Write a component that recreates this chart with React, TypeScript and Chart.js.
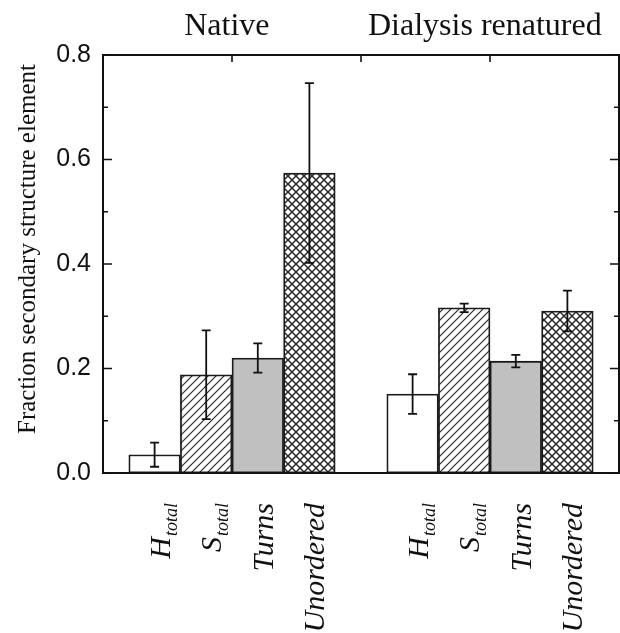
import React, { useEffect, useRef } from "react";
import { Chart, registerables } from "chart.js";

Chart.register(...registerables);

const groupTitles = ["Native", "Dialysis renatured"];
const elementNames = ["H", "S", "Turns", "Unordered"];
const elementSubscripts = ["total", "total", "", ""];
const nativeValues = [0.035, 0.188, 0.22, 0.574];
const nativeErrors = [0.023, 0.085, 0.028, 0.172];
const renaturedValues = [0.151, 0.316, 0.214, 0.31];
const renaturedErrors = [0.038, 0.008, 0.012, 0.039];
const yAxisTitle = "Fraction secondary structure element";
const yMin = 0;
const yMax = 0.8;
const yMinorStep = 0.1;

const SERIF = "'Liberation Serif', 'Times New Roman', serif";
const SANS = "'Liberation Sans', Arial, sans-serif";
const INK = "#111";

function makePattern(kind: string): CanvasPattern | string {
  if (kind === "white") return "#ffffff";
  if (kind === "gray") return "#c0c0c0";
  const s = 8;
  const c = document.createElement("canvas");
  c.width = s;
  c.height = s;
  const g = c.getContext("2d")!;
  g.fillStyle = "#ffffff";
  g.fillRect(0, 0, s, s);
  g.strokeStyle = kind === "cross" ? "#2a2a2a" : "#2a2a2a";
  g.lineWidth = kind === "cross" ? 1.5 : 1.2;
  const fwd = () => {
    g.beginPath();
    g.moveTo(-1, s + 1);
    g.lineTo(s + 1, -1);
    g.moveTo(-1, 1);
    g.lineTo(1, -1);
    g.moveTo(s - 1, s + 1);
    g.lineTo(s + 1, s - 1);
    g.stroke();
  };
  const back = () => {
    g.beginPath();
    g.moveTo(-1, -1);
    g.lineTo(s + 1, s + 1);
    g.moveTo(s - 1, -1);
    g.lineTo(s + 1, 1);
    g.moveTo(-1, s - 1);
    g.lineTo(1, s + 1);
    g.stroke();
  };
  fwd();
  if (kind === "cross") back();
  return g.createPattern(c, "repeat")!;
}

const fills = ["white", "diag", "gray", "cross"];

const overlayPlugin = {
  id: "overlay",
  afterDatasetsDraw(chart: any) {
    const { ctx, chartArea: a, scales } = chart;
    const xs = scales.x;
    const ys = scales.y;
    ctx.save();
    ctx.strokeStyle = INK;
    ctx.fillStyle = INK;

    // error bars
    ctx.lineWidth = 1.8;
    chart.data.datasets.forEach((ds: any) => {
      ds.data.forEach((pt: any, j: number) => {
        const err = ds.errors[j];
        const x = xs.getPixelForValue(pt.x);
        const y1 = ys.getPixelForValue(pt.y + err);
        const y2 = ys.getPixelForValue(pt.y - err);
        ctx.beginPath();
        ctx.moveTo(x, y1);
        ctx.lineTo(x, y2);
        ctx.moveTo(x - 4.5, y1);
        ctx.lineTo(x + 4.5, y1);
        ctx.moveTo(x - 4.5, y2);
        ctx.lineTo(x + 4.5, y2);
        ctx.stroke();
      });
    });

    // frame
    ctx.lineWidth = 2;
    ctx.strokeRect(a.left, a.top, a.right - a.left, a.bottom - a.top);

    // inward y ticks (both sides)
    ctx.lineWidth = 1.6;
    ys.ticks.forEach((t: any) => {
      const y = ys.getPixelForValue(t.value);
      const major = Math.abs(t.value * 5 - Math.round(t.value * 5)) < 1e-6;
      const len = major ? 9 : 5;
      ctx.beginPath();
      ctx.moveTo(a.left, y);
      ctx.lineTo(a.left + len, y);
      ctx.moveTo(a.right, y);
      ctx.lineTo(a.right - len, y);
      ctx.stroke();
    });
    // top ticks
    xs.ticks.forEach((t: any) => {
      const x = xs.getPixelForValue(t.value);
      if (x <= a.left + 1 || x >= a.right - 1) return;
      ctx.beginPath();
      ctx.moveTo(x, a.top);
      ctx.lineTo(x, a.top + 7);
      ctx.stroke();
    });

    // x category labels (rotated, italic, with subscripts)
    const mainFont = `italic 30px ${SERIF}`;
    const subFont = `italic 18px ${SERIF}`;
    chart.data.datasets.forEach((ds: any, i: number) => {
      ds.data.forEach((pt: any) => {
        const x = xs.getPixelForValue(pt.x) + 15;
        const y = a.bottom + 30;
        ctx.font = mainFont;
        const mw = ctx.measureText(elementNames[i]).width;
        ctx.font = subFont;
        const sw = elementSubscripts[i] ? ctx.measureText(elementSubscripts[i]).width + 1 : 0;
        const total = mw + sw;
        ctx.save();
        ctx.translate(x, y);
        ctx.rotate(-Math.PI / 2);
        ctx.textAlign = "left";
        ctx.textBaseline = "alphabetic";
        ctx.font = mainFont;
        ctx.fillText(elementNames[i], -total, 0);
        if (elementSubscripts[i]) {
          ctx.font = subFont;
          ctx.fillText(elementSubscripts[i], -total + mw + 1, 7);
        }
        ctx.restore();
      });
    });

    // group titles
    ctx.font = `32px ${SERIF}`;
    ctx.textAlign = "center";
    ctx.textBaseline = "alphabetic";
    groupTitles.forEach((title, g) => {
      const center = 1 + g * (elementNames.length + 1) + (elementNames.length - 1) / 2 - 0.1;
      ctx.fillText(title, xs.getPixelForValue(center), a.top - 20);
    });

    // y axis title
    ctx.save();
    ctx.font = `25px ${SERIF}`;
    ctx.translate(a.left - 75, (a.top + a.bottom) / 2 - 15);
    ctx.rotate(-Math.PI / 2);
    ctx.textAlign = "center";
    ctx.textBaseline = "middle";
    ctx.fillText(yAxisTitle, 0, 0);
    ctx.restore();

    ctx.restore();
  },
};

export default function App() {
  const ref = useRef<HTMLCanvasElement | null>(null);

  useEffect(() => {
    document.body.style.margin = "0";
    const canvas = ref.current!;
    const datasets = elementNames.map((name, i) => ({
      label: name,
      data: [
        { x: 1 + i, y: nativeValues[i] },
        { x: 1 + elementNames.length + 1 + i, y: renaturedValues[i] },
      ],
      errors: [nativeErrors[i], renaturedErrors[i]],
      backgroundColor: makePattern(fills[i]),
      borderColor: "#1a1a1a",
      borderWidth: 1.8,
      borderSkipped: false,
      barPercentage: 1,
      categoryPercentage: 1,
      grouped: false,
    }));

    const chart = new Chart(canvas, {
      type: "bar",
      data: { datasets } as any,
      options: {
        animation: false,
        responsive: false,
        devicePixelRatio: 1,
        layout: { padding: { top: 55, right: 1, left: 0, bottom: 0 } },
        plugins: { legend: { display: false }, tooltip: { enabled: false } },
        scales: {
          x: {
            type: "linear",
            offset: false,
            min: 0,
            max: 2 * (elementNames.length + 1),
            grid: { display: false, offset: false },
            border: { display: false },
            ticks: { display: false, stepSize: 2.5 },
            afterFit: (s: any) => {
              s.height = 160;
            },
          },
          y: {
            min: yMin,
            max: yMax,
            grid: { display: false, drawTicks: false },
            border: { display: false },
            ticks: {
              stepSize: yMinorStep,
              autoSkip: false,
              padding: 12,
              color: INK,
              font: { family: SANS, size: 25 },
              callback: (v: any) => {
                const n = Number(v);
                return Math.abs(n * 5 - Math.round(n * 5)) < 1e-6 ? n.toFixed(1) : "";
              },
            },
            afterFit: (s: any) => {
              s.width = 103;
            },
          },
        },
      } as any,
      plugins: [overlayPlugin],
    });
    return () => chart.destroy();
  }, []);

  return (
    <div style={{ width: 620, height: 633, background: "#fff" }}>
      <canvas ref={ref} width={620} height={633} style={{ display: "block" }} />
    </div>
  );
}
